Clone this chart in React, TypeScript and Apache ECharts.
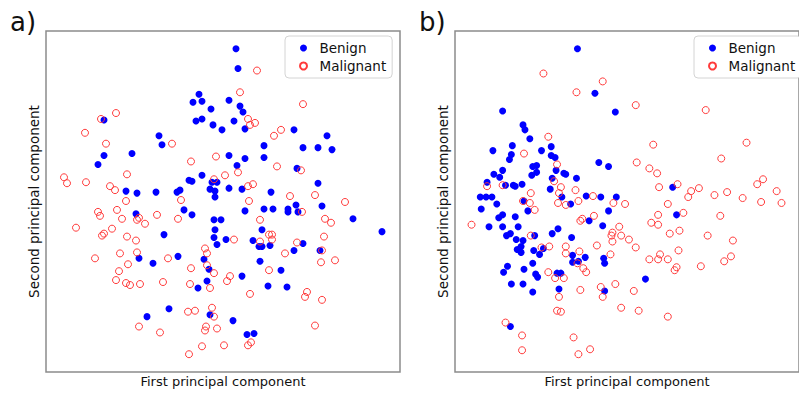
import React, { useEffect, useRef } from "react";
import * as echarts from "echarts";

// PCA scores (arbitrary units) for panel a
const benignA: [number, number][] = [
  [153, 281], [147, 273], [156, 274], [165, 266], [58, 255], [150, 254], [156, 256], [167, 250],
  [176, 245], [183, 275], [113, 239], [116, 230], [86, 221], [58, 219], [52, 210], [183, 219],
  [143, 194], [146, 193], [156, 199], [166, 192], [171, 192], [183, 186], [80, 183], [91, 181],
  [110, 182], [131, 182], [134, 184], [164, 185], [169, 183], [169, 177], [138, 164], [146, 159],
  [90, 160], [168, 154], [175, 154], [118, 139], [169, 144], [168, 136], [171, 129], [180, 134],
  [93, 115], [107, 110], [132, 117], [158, 114], [163, 104], [161, 92], [152, 85], [123, 64],
  [101, 56], [164, 58], [190, 327], [192, 307], [194, 269], [197, 263], [188, 254], [199, 246],
  [248, 245], [281, 239], [218, 229], [257, 227], [272, 227], [286, 225], [199, 216], [218, 217],
  [191, 209], [251, 206], [272, 191], [196, 185], [225, 182], [276, 168], [250, 169], [218, 165],
  [227, 165], [199, 163], [242, 165], [242, 162], [252, 162], [307, 155], [336, 142], [216, 144],
  [207, 133], [213, 127], [216, 127], [224, 128], [257, 130], [248, 123], [274, 123], [214, 112],
  [235, 103], [196, 97], [222, 87], [241, 86], [187, 52], [201, 38], [208, 39],
];

const malignantA: [number, number][] = [
  [70, 262], [55, 256], [39, 242], [60, 231], [126, 231], [145, 213], [170, 218], [81, 200],
  [18, 197], [21, 191], [40, 192], [64, 188], [69, 184], [168, 195], [179, 199], [80, 173],
  [135, 174], [52, 162], [54, 158], [71, 164], [76, 155], [91, 154], [93, 156], [99, 150],
  [111, 159], [132, 155], [30, 146], [66, 145], [58, 140], [56, 138], [81, 137], [90, 133],
  [159, 125], [161, 120], [74, 120], [91, 121], [49, 115], [122, 115], [82, 109], [145, 105],
  [161, 108], [168, 100], [73, 102], [70, 93], [80, 90], [84, 88], [94, 89], [117, 91],
  [144, 89], [164, 85], [181, 92], [184, 97], [166, 65], [142, 61], [149, 62], [168, 56],
  [93, 46], [160, 46], [159, 42], [171, 44], [114, 40], [156, 26], [178, 27], [143, 18],
  [211, 305], [194, 283], [257, 271], [202, 256], [204, 250], [209, 252], [235, 245], [228, 239],
  [231, 208], [255, 204], [192, 202], [202, 188], [207, 190], [244, 178], [269, 179], [203, 173],
  [299, 172], [256, 162], [279, 155], [285, 151], [214, 154], [188, 134], [223, 139], [226, 139],
  [226, 134], [214, 132], [251, 131], [278, 137], [276, 123], [239, 120], [275, 111], [289, 113],
  [223, 103], [204, 79], [261, 81], [259, 76], [276, 73], [269, 47], [202, 27], [205, 30],
];

// PCA scores (arbitrary units) for panel b
const benignB: [number, number][] = [
  [126, 327], [144, 282], [49, 264], [165, 263], [70, 250], [72, 245], [77, 236], [59, 229],
  [39, 224], [58, 220], [56, 215], [89, 224], [99, 228], [99, 219], [103, 217], [148, 212],
  [158, 208], [80, 208], [84, 209], [79, 199], [84, 202], [49, 204], [40, 200], [46, 197],
  [104, 204], [112, 201], [114, 200], [100, 196], [125, 196], [33, 192], [52, 189], [60, 189],
  [62, 188], [69, 190], [98, 185], [135, 178], [26, 177], [32, 177], [38, 177], [110, 177],
  [150, 177], [224, 187], [166, 177], [43, 170], [27, 165], [71, 173], [75, 163], [119, 170],
  [158, 163], [45, 156], [49, 159], [62, 157], [138, 153], [35, 147], [49, 147], [65, 147],
  [152, 148], [53, 138], [57, 140], [63, 134], [70, 133], [82, 138], [100, 140], [106, 145],
  [120, 136], [68, 127], [64, 124], [68, 121], [81, 123], [91, 125], [87, 119], [121, 118],
  [134, 116], [121, 111], [127, 112], [153, 115], [154, 110], [80, 110], [71, 104], [54, 107],
  [50, 101], [83, 99], [85, 96], [105, 100], [109, 100], [58, 89], [70, 89], [80, 81],
  [107, 84], [154, 82], [57, 46], [228, 159], [196, 94],
];

const malignantB: [number, number][] = [
  [91, 302], [152, 294], [125, 283], [96, 238], [71, 221], [105, 210], [102, 193], [33, 188],
  [49, 189], [109, 187], [124, 184], [78, 181], [142, 178], [186, 270], [258, 265], [204, 230],
  [300, 232], [187, 212], [200, 206], [208, 201], [274, 216], [210, 187], [229, 190], [243, 183],
  [251, 186], [267, 179], [280, 182], [311, 190], [317, 195], [331, 183], [240, 177], [296, 176],
  [107, 181], [70, 173], [77, 171], [106, 171], [114, 169], [127, 173], [163, 171], [82, 164],
  [17, 149], [131, 155], [129, 153], [143, 158], [78, 138], [89, 126], [97, 127], [114, 127],
  [114, 120], [128, 122], [146, 128], [162, 141], [161, 138], [162, 132], [160, 119], [126, 110],
  [132, 105], [135, 101], [96, 101], [103, 95], [112, 95], [129, 83], [150, 86], [152, 76],
  [107, 76], [105, 62], [109, 61], [52, 50], [69, 37], [122, 35], [69, 22], [127, 18],
  [139, 23], [165, 89], [175, 170], [219, 170], [315, 172], [336, 171], [209, 159], [235, 161],
  [273, 158], [202, 151], [209, 149], [169, 147], [171, 138], [179, 134], [231, 143], [221, 140],
  [260, 138], [286, 133], [186, 126], [230, 123], [200, 114], [209, 114], [211, 119], [219, 114],
  [228, 106], [226, 103], [253, 107], [277, 112], [284, 117], [184, 82], [171, 65], [189, 62],
  [219, 56],
];

const classNames = ["Benign", "Malignant"];
const panelLabels = ["a)", "b)"];
const xTitle = "First principal component";
const yTitle = "Second principal component";

const FONT = "DejaVu Sans";
const BLUE = "#0000ff";
const RED = "#ff3b3b";

export default function App() {
  const ref = useRef<HTMLDivElement>(null);

  useEffect(() => {
    if (!ref.current) return;
    const chart = echarts.init(ref.current, undefined, { renderer: "svg" });

    const grids = [
      { left: 46, top: 31, width: 354, height: 345 },
      { left: 455, top: 31, width: 354, height: 345 },
    ].map((g) => ({
      ...g,
      show: true,
      borderColor: "#8c8c8c",
      borderWidth: 1.5,
      backgroundColor: "#fff",
    }));

    const xAxes = [0, 1].map((i) => ({
      type: "value",
      gridIndex: i,
      min: 0,
      max: 354,
      axisLine: { show: false },
      axisTick: { show: false },
      axisLabel: { show: false },
      splitLine: { show: false },
      name: xTitle,
      nameLocation: "middle",
      nameGap: 3,
      nameTextStyle: { fontFamily: FONT, fontSize: 13, color: "#111", verticalAlign: "top" },
    }));

    const yAxes = [0, 1].map((i) => ({
      type: "value",
      gridIndex: i,
      min: 0,
      max: 345,
      axisLine: { show: false },
      axisTick: { show: false },
      axisLabel: { show: false },
      splitLine: { show: false },
      name: yTitle,
      nameLocation: "middle",
      nameGap: 5,
      nameTextStyle: { fontFamily: FONT, fontSize: 13.5, color: "#111", verticalAlign: "bottom" },
    }));

    const benignStyle = { color: BLUE, opacity: 1 };
    const malignantStyle = { color: "rgba(0,0,0,0)", borderColor: RED, borderWidth: 1, opacity: 1 };

    const makeSeries = (idx: number, benign: [number, number][], malignant: [number, number][]) => [
      {
        name: classNames[0],
        type: "scatter",
        xAxisIndex: idx,
        yAxisIndex: idx,
        symbol: "circle",
        symbolSize: 7,
        itemStyle: benignStyle,
        data: benign,
      },
      {
        name: classNames[1],
        type: "scatter",
        xAxisIndex: idx,
        yAxisIndex: idx,
        symbol: "circle",
        symbolSize: 7,
        itemStyle: malignantStyle,
        data: malignant,
      },
    ];

    const legendBase = {
      orient: "vertical",
      top: 36,
      data: classNames,
      itemWidth: 22,
      itemHeight: 7,
      itemGap: 4,
      padding: [5, 6, 5, 14],
      backgroundColor: "#fff",
      borderColor: "#d4d4d4",
      borderWidth: 1,
      borderRadius: 4,
      selectedMode: false,
      textStyle: {
        fontFamily: FONT,
        fontSize: 13.5,
        color: "#111",
        lineHeight: 14,
      },
    };

    chart.setOption({
      animation: false,
      backgroundColor: "#fff",
      grid: grids,
      xAxis: xAxes,
      yAxis: yAxes,
      legend: [
        { ...legendBase, left: 285 },
        { ...legendBase, left: 694 },
      ],
      graphic: [
        {
          type: "text",
          left: 10,
          top: 9,
          style: { text: panelLabels[0], fontFamily: FONT, fontSize: 26, fill: "#111" },
        },
        {
          type: "text",
          left: 419,
          top: 9,
          style: { text: panelLabels[1], fontFamily: FONT, fontSize: 26, fill: "#111" },
        },
      ],
      series: [...makeSeries(0, benignA, malignantA), ...makeSeries(1, benignB, malignantB)],
    });

    return () => chart.dispose();
  }, []);

  return (
    <div
      ref={ref}
      style={{ position: "absolute", left: 0, top: 0, width: 799, height: 393 }}
    />
  );
}
